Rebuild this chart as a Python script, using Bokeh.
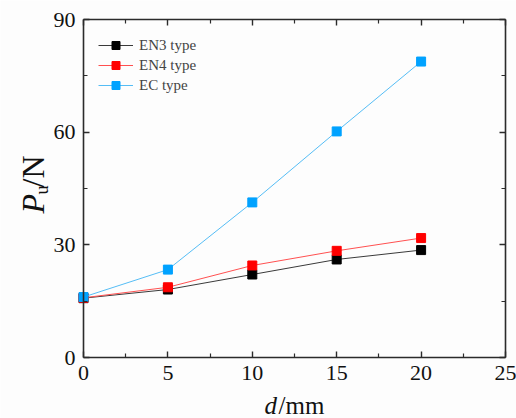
import math
from bokeh.plotting import figure
from bokeh.models import LinearAxis, FixedTicker, Range1d, Legend, LegendItem
from bokeh.core.properties import value
from bokeh.embed import file_html
from bokeh.resources import INLINE

# Gap size d (mm) and ultimate load Pu (N) for each connection type
d_mm = [0, 5, 10, 15, 20]
en3_type = [15.8, 18.1, 22.1, 26.1, 28.6]
en4_type = [15.9, 18.7, 24.5, 28.4, 31.8]
ec_type = [16.1, 23.4, 41.3, 60.2, 78.8]

series_names = ["EN3 type", "EN4 type", "EC type"]
x_ticks = [0, 5, 10, 15, 20, 25]
y_ticks = [0, 30, 60, 90]
x_minor = [2.5, 7.5, 12.5, 17.5, 22.5]
y_minor = [15, 45, 75]
X_LIM = (0, 25)
Y_LIM = (0, 90)

SERIF = "Liberation Serif"
AXIS_COLOR = "#2b2b2b"
BG = "#fdfdfd"
TEXT_COLOR = "#111111"

# Page geometry: the plotting box sits inside a 516x418 canvas and the axes are
# pinned to its edges, so titles can be drawn around it in the same frame.
W, H = 516, 418
BOX_L, BOX_R, BOX_T, BOX_B = 83, 505, 19, 357
sx = (BOX_R - BOX_L) / (X_LIM[1] - X_LIM[0])
sy = (BOX_B - BOX_T) / (Y_LIM[1] - Y_LIM[0])
x_range = Range1d(X_LIM[0] - BOX_L / sx, X_LIM[1] + (W - BOX_R) / sx)
y_range = Range1d(Y_LIM[0] - (H - BOX_B) / sy, Y_LIM[1] + BOX_T / sy)


def px_x(cx):
    return X_LIM[0] + (cx - BOX_L) / sx


def px_y(cy):
    return Y_LIM[0] + (BOX_B - cy) / sy


p = figure(width=W, height=H, x_range=x_range, y_range=y_range,
           output_backend="svg", toolbar_location=None,
           x_axis_location=None, y_axis_location=None, min_border=0)
p.background_fill_color = BG
p.border_fill_color = BG
p.outline_line_color = None
p.grid.visible = False


def make_axis(ticks, minor, bounds, at, show_labels):
    ax = LinearAxis(ticker=FixedTicker(ticks=ticks, minor_ticks=minor),
                    bounds=bounds, fixed_location=at)
    ax.axis_line_color = AXIS_COLOR
    ax.axis_line_width = 1.6
    ax.major_tick_line_color = AXIS_COLOR
    ax.major_tick_line_width = 1.4
    ax.minor_tick_line_color = AXIS_COLOR
    ax.minor_tick_line_width = 1.2
    ax.major_tick_in = 6
    ax.major_tick_out = 0
    ax.minor_tick_in = 4
    ax.minor_tick_out = 0
    if show_labels:
        ax.major_label_text_font = SERIF
        ax.major_label_text_font_size = "22px"
        ax.major_label_text_color = TEXT_COLOR
        ax.major_label_standoff = 8
    else:
        ax.major_label_overrides = {t: "" for t in ticks}
        ax.major_label_standoff = 0
    return ax


p.add_layout(make_axis(x_ticks, x_minor, X_LIM, Y_LIM[0], True), "below")
p.add_layout(make_axis(y_ticks, y_minor, Y_LIM, X_LIM[0], True), "left")
p.add_layout(make_axis(x_ticks, x_minor, X_LIM, Y_LIM[1], False), "above")
p.add_layout(make_axis(y_ticks, y_minor, Y_LIM, X_LIM[1], False), "right")

styles = [
    (en3_type, "#3a3a3a", "#000000"),
    (en4_type, "#ff5050", "#ff0000"),
    (ec_type, "#55bdf5", "#00a2ff"),
]
items = []
for name, (vals, line_c, mark_c) in zip(series_names, styles):
    ln = p.line(d_mm, vals, line_color=line_c, line_width=1)
    mk = p.scatter(d_mm, vals, marker="square", size=9,
                   fill_color=mark_c, line_color=mark_c)
    items.append(LegendItem(label=name, renderers=[ln, mk]))

ROW_H = 20
legend = Legend(items=items)
legend.padding = 0
legend.margin = 0
legend.spacing = 0
legend.glyph_width = 35
legend.glyph_height = ROW_H
legend.label_height = ROW_H
legend.label_standoff = 6
legend.label_text_font = SERIF
legend.label_text_font_size = "15px"
legend.border_line_alpha = 0
legend.background_fill_alpha = 0
# (x, y) offset of the legend's lower-left corner from the canvas' lower-left
legend.location = (98, H - 35 - ROW_H * len(items))
p.add_layout(legend)


def piece(cx, cy, text, size, italic=False, angle=0.0):
    # (cx, cy) is the left end of the text's middle line, in canvas pixels
    p.text(x=[px_x(cx)], y=[px_y(cy)], text=[text], angle=angle,
           text_font=value(SERIF),
           text_font_style="italic" if italic else "normal",
           text_font_size=value(size), text_color=TEXT_COLOR,
           text_align="left", text_baseline="middle")


# vertical title P_u/N, reading bottom to top
piece(32, 213, "P", "32px", italic=True, angle=math.pi / 2)
piece(41, 194, "u", "18px", angle=math.pi / 2)
piece(32, 187, "/N", "32px", angle=math.pi / 2)
# horizontal title d/mm
piece(264, 405, "d", "25px", italic=True)
piece(278, 405, "/mm", "25px")

open("out.html", "w").write(file_html(p, INLINE))
